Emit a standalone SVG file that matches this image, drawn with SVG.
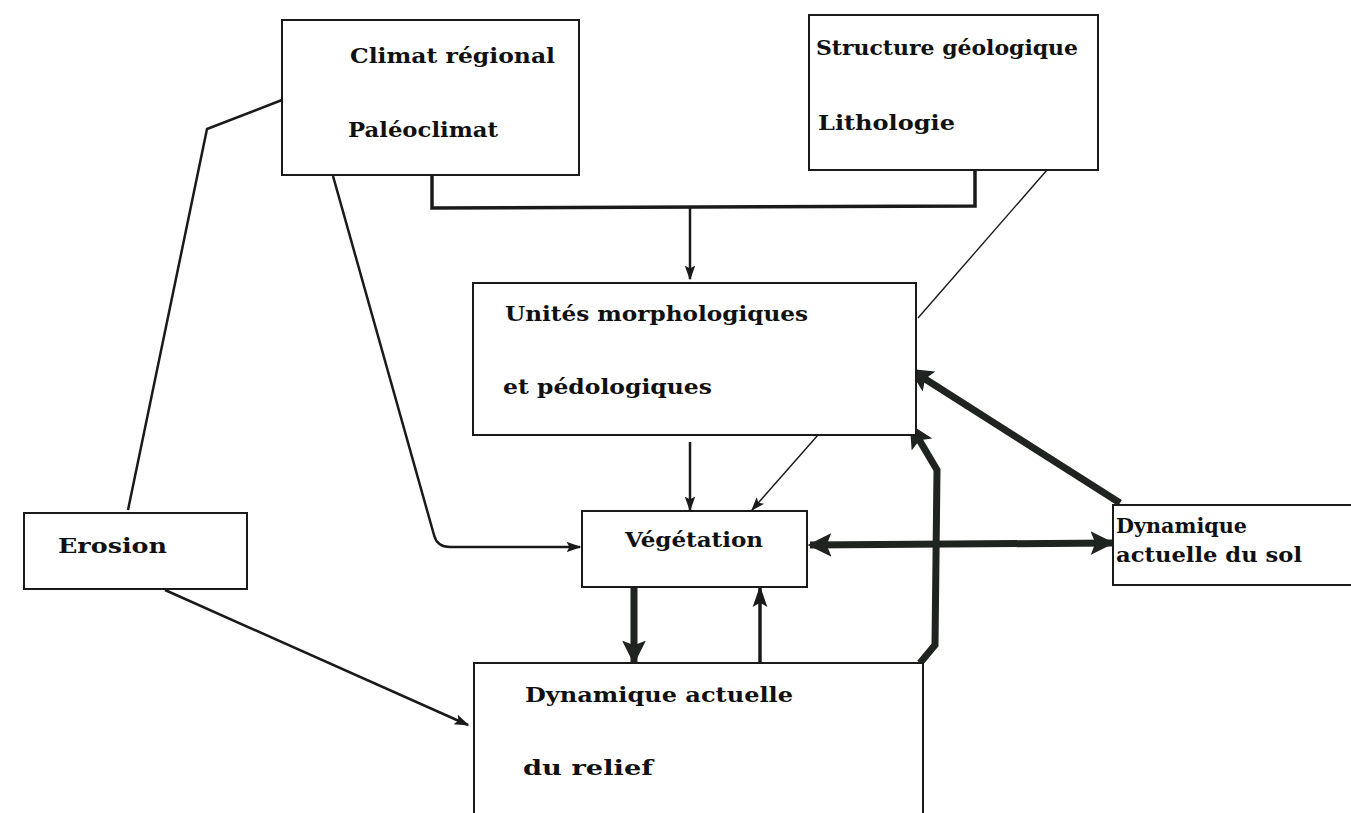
<svg xmlns="http://www.w3.org/2000/svg" width="1351" height="813" viewBox="0 0 1351 813">
<style>
.box{fill:#fff;stroke:#1a1a1a;stroke-width:2}
.t{font-family:"DejaVu Serif","Liberation Serif",serif;font-weight:900;font-size:20px;fill:#111}
.thin{fill:none;stroke:#1a1a1a;stroke-width:2.5}
.hair{fill:none;stroke:#1a1a1a;stroke-width:1.4}
.mid{fill:none;stroke:#1a1a1a;stroke-width:3.5}
.thick{fill:none;stroke:#1f2420;stroke-width:7}
</style>
<defs>
<marker id="a" viewBox="0 0 10 10" refX="9" refY="5" markerWidth="6" markerHeight="6" orient="auto" markerUnits="strokeWidth">
<path d="M0,1.5 L10,5 L0,8.5 L2,5 Z" fill="#1a1a1a"/>
</marker>
<marker id="ab" viewBox="0 0 10 10" refX="9" refY="5" markerWidth="3.4" markerHeight="3.4" orient="auto" markerUnits="strokeWidth">
<path d="M0,0 L10,5 L0,10 L2,5 Z" fill="#1f2420"/>
</marker>
<marker id="ah" viewBox="0 0 10 10" refX="9" refY="5" markerWidth="10" markerHeight="10" orient="auto" markerUnits="strokeWidth">
<path d="M0,1.5 L10,5 L0,8.5 L2,5 Z" fill="#1a1a1a"/>
</marker>
<marker id="ab2" viewBox="0 0 10 10" refX="1" refY="5" markerWidth="3.4" markerHeight="3.4" orient="auto" markerUnits="strokeWidth">
<path d="M10,0 L0,5 L10,10 L8,5 Z" fill="#1f2420"/>
</marker>
</defs>
<rect width="1351" height="813" fill="#fff"/>
<g id="connectors">
<polyline class="thin" points="282,100 207,129 128,510"/>
<path class="thin" d="M333,176 L434,535 Q437,547 450,547 L580,547" marker-end="url(#a)"/>
<polyline class="mid" points="432,176 432,208 975,206 975,170"/>
<line class="thin" x1="690" y1="208" x2="690" y2="279" marker-end="url(#a)"/>
<line class="hair" x1="1047" y1="170" x2="918" y2="318"/>
<line class="thin" x1="690" y1="442" x2="690" y2="510" marker-end="url(#a)"/>
<line class="hair" x1="818" y1="435" x2="752" y2="510" marker-end="url(#ah)"/>
<line class="thick" x1="810" y1="545" x2="1112" y2="543" marker-start="url(#ab2)" marker-end="url(#ab)"/>
<line class="thick" x1="1120" y1="503" x2="911" y2="370" marker-end="url(#ab)"/>
<path class="thick" d="M920,663 L935,645 L937,470 L911,426" marker-end="url(#ab)"/>
<line class="thick" x1="634" y1="588" x2="634" y2="662" marker-end="url(#ab)"/>
<line class="mid" x1="760" y1="662" x2="760" y2="588" marker-end="url(#a)"/>
<line class="thin" x1="165" y1="590" x2="468" y2="725" marker-end="url(#a)"/>
</g>
<g id="climat">
<rect class="box" x="282" y="20" width="297" height="155"/>
<text class="t" x="350" y="63" textLength="205" lengthAdjust="spacingAndGlyphs">Climat régional</text>
<text class="t" x="348" y="137" textLength="150" lengthAdjust="spacingAndGlyphs">Paléoclimat</text>
</g>
<g id="structure">
<rect class="box" x="809" y="15" width="289" height="155"/>
<text class="t" x="816" y="55" textLength="262" lengthAdjust="spacingAndGlyphs">Structure géologique</text>
<text class="t" x="818" y="130" textLength="137" lengthAdjust="spacingAndGlyphs">Lithologie</text>
</g>
<g id="unites">
<rect class="box" x="473" y="283" width="443" height="152"/>
<text class="t" x="505" y="321" textLength="303" lengthAdjust="spacingAndGlyphs">Unités morphologiques</text>
<text class="t" x="503" y="394" textLength="209" lengthAdjust="spacingAndGlyphs">et pédologiques</text>
</g>
<g id="vegetation">
<rect class="box" x="582" y="511" width="225" height="76"/>
<text class="t" x="625" y="547" textLength="138" lengthAdjust="spacingAndGlyphs">Végétation</text>
</g>
<g id="dynsol">
<rect class="box" x="1113" y="505" width="240" height="80"/>
<text class="t" x="1116" y="533" textLength="131" lengthAdjust="spacingAndGlyphs">Dynamique</text>
<text class="t" x="1116" y="562" textLength="186" lengthAdjust="spacingAndGlyphs">actuelle du sol</text>
</g>
<g id="erosion">
<rect class="box" x="24" y="513" width="223" height="76"/>
<text class="t" x="58" y="553" textLength="109" lengthAdjust="spacingAndGlyphs">Erosion</text>
</g>
<g id="relief">
<rect class="box" x="474" y="663" width="449" height="160"/>
<text class="t" x="525" y="702" textLength="268" lengthAdjust="spacingAndGlyphs">Dynamique actuelle</text>
<text class="t" x="523" y="775" textLength="130" lengthAdjust="spacingAndGlyphs">du relief</text>
</g>
</svg>
